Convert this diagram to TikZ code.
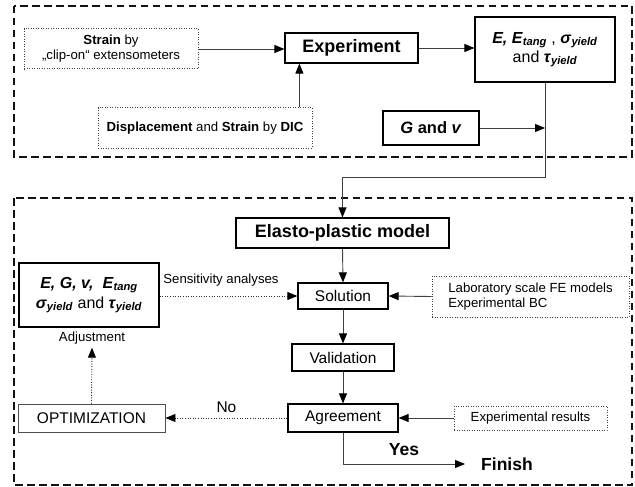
\documentclass[tikz,border=0pt]{standalone}
\usepackage{fontspec}
\setmainfont{Liberation Sans}
\usetikzlibrary{arrows.meta}
\newcommand\fsmall{\fontsize{13.2}{15}\selectfont}
\newcommand\fmid{\fontsize{15.5}{18}\selectfont}
\newcommand\fbig{\fontsize{18}{21}\selectfont}
\newcommand\bfit[1]{\textbf{\textit{#1}}}
\newcommand\idx[1]{\textsubscript{\bfit{#1}}}
\tikzset{
  box/.style={draw=black,line width=1.2pt,inner sep=2pt},
  infobox/.style={draw=gray!50!black,line width=1pt,dash pattern=on 1pt off 1.5pt,inner sep=2pt,font=\fsmall},
  group/.style={draw=gray!15!black,line width=1.5pt,dash pattern=on 7.5pt off 4.5pt},
  flow/.style={draw=gray!50!black,line width=0.9pt,-{Triangle[length=10pt,width=8pt,color=black]}},
  hint/.style={flow,draw=gray!35!black,dash pattern=on 1pt off 1.6pt}
}
\begin{document}
\begin{tikzpicture}[x=1pt,y=-1pt]
\useasboundingbox (0,0) rectangle (635,487);
\draw[group] (14,6) rectangle (632,157);
\draw[group] (14,198) rectangle (632,485);

\node[infobox,minimum width=174,minimum height=40,align=center] (strain) at (111,49) {\textbf{Strain} by\\„clip-on“ extensometers};
\node[box,minimum width=133,minimum height=30,font=\fbig\bfseries] (exp) at (351.5,48) {Experiment};
\node[infobox,minimum width=214,minimum height=40] (dic) at (205,128) {\textbf{Displacement} and \textbf{Strain} by \textbf{DIC}};
\node[box,minimum width=140,minimum height=65,align=center,font=\fontsize{16}{19}\selectfont] (props) at (545,49.5) {\bfit{E,} \bfit{E}\idx{tang} , \bfit{σ}\idx{yield}\\and \bfit{τ}\idx{yield}};
\node[box,minimum width=96,minimum height=34,font=\fontsize{16.5}{19}\selectfont] (gv) at (431,128) {\bfit{G} \textbf{and} \bfit{v}};
\coordinate (joint) at (545,177);

\node[box,minimum width=213,minimum height=30,font=\fbig\bfseries] (elasto) at (342.5,233) {Elasto-plastic model};
\node[box,minimum width=90,minimum height=26,font=\fmid] (sol) at (343,296) {Solution};
\node[infobox,minimum width=197,minimum height=41,align=left,inner xsep=16pt] (lab) at (530.5,296.5) {Laboratory scale FE models\\Experimental BC};
\node[box,minimum width=140,minimum height=64,align=center,font=\fontsize{16}{20}\selectfont] (params) at (89,295) {\bfit{E, G, v,}~ \bfit{E}\idx{tang}\\\bfit{σ}\idx{yield} and \bfit{τ}\idx{yield}};
\node[box,minimum width=102,minimum height=27,font=\fmid] (val) at (343,357.5) {Validation};
\node[box,minimum width=110,minimum height=28,font=\fmid] (agree) at (343,418) {Agreement};
\node[box,minimum width=147,minimum height=28,font=\fmid,line width=0.9pt,draw=gray!60!black] (opt) at (91.5,418) {OPTIMIZATION};
\node[infobox,minimum width=153,minimum height=24] (results) at (530.5,418) {Experimental results};
\node[font=\fsmall] (adjust) at (92,338) {Adjustment};
\node[font=\fontsize{17.5}{20}\selectfont\bfseries,inner xsep=16pt,anchor=west] (finish) at (465,464) {Finish};

\draw[flow] (strain.east) -- (strain.east -| exp.west);
\draw[flow] ([xshift=15pt]exp.south west |- dic.north) -- ([xshift=15pt]exp.south west);
\draw[flow] (exp.east) -- (exp.east -| props.west);
\draw[flow] (gv.east) -- (gv.east -| props.south);
\draw[flow] (props.south) -- (joint) -| (elasto.north);
\draw[flow] (elasto.south) -- (sol.north);
\draw[flow] (lab.west) -- (sol.east);
\draw[hint] (params.east |- sol.west) -- (sol.west) node[pos=0,above right,font=\fsmall,yshift=6pt] {Sensitivity analyses};
\draw[flow] (sol.south) -- (val.north);
\draw[flow] (val.south) -- (agree.north);
\draw[flow] (results.west) -- (agree.east);
\draw[hint] (agree.west) -- (opt.east) node[midway,above,font=\fmid,yshift=2pt] {No};
\draw[hint] (opt.north) -- (adjust.south);
\draw[flow] (agree.south) |- (finish.west) node[pos=0.75,above,font=\fontsize{17.5}{20}\selectfont\bfseries,yshift=5pt] {Yes};
\end{tikzpicture}
\end{document}
